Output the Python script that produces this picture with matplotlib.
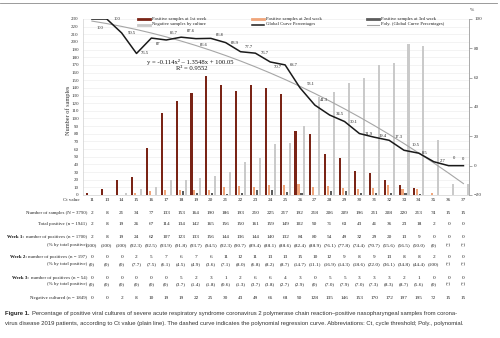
import matplotlib
matplotlib.use("Agg")
import numpy as np
import matplotlib.pyplot as plt
import matplotlib.transforms as mtransforms
from matplotlib.lines import Line2D

# Ct values (12 is absent from the series)
ct_values = [11, 13, 14, 15, 16, 17, 18, 19, 20, 21, 22, 23, 24,
             25, 26, 27, 28, 29, 30, 31, 32, 33, 34, 35, 36, 37]

n_samples = [2, 8, 21, 34, 77, 133, 153, 164, 190, 186, 193, 210, 225,
             217, 192, 218, 206, 209, 196, 211, 208, 220, 213, 74, 15, 15]
total_pos = [2, 8, 19, 26, 67, 114, 134, 142, 165, 156, 150, 161, 159,
             149, 102, 90, 71, 63, 43, 41, 36, 23, 18, 2, 0, 0]
week1 = [2, 8, 19, 24, 62, 107, 123, 133, 156, 144, 136, 144, 140,
         132, 84, 80, 54, 49, 32, 29, 20, 13, 9, 0, 0, 0]
week2 = [0, 0, 0, 2, 5, 7, 6, 7, 6, 11, 12, 11, 13,
         13, 15, 10, 12, 9, 8, 9, 13, 8, 8, 2, 0, 0]
week3 = [0, 0, 0, 0, 0, 0, 5, 2, 3, 1, 2, 6, 6,
         4, 3, 0, 5, 5, 3, 3, 3, 2, 1, 0, 0, 0]
negative = [0, 0, 2, 8, 10, 19, 19, 22, 25, 30, 43, 49, 66,
            68, 90, 128, 135, 146, 153, 170, 172, 197, 195, 72, 15, 15]

week1_pct = ["100", "100", "100", "92.3", "92.5", "93.9", "91.8", "93.7", "94.5",
             "92.3", "90.7", "89.4", "88.1", "88.6", "82.4", "88.9", "76.1", "77.8",
             "74.4", "70.7", "55.6", "56.5", "50.0", "0", "-", "-"]
week2_pct = ["0", "0", "0", "7.7", "7.5", "6.1", "4.5", "4.9", "3.6", "7.1", "8.0",
             "6.8", "8.2", "8.7", "14.7", "11.1", "16.9", "14.3", "18.6", "22.0",
             "36.1", "34.8", "44.4", "100", "-", "-"]
week3_pct = ["0", "0", "0", "0", "0", "0", "3.7", "1.4", "1.8", "0.6", "1.3", "3.7",
             "3.8", "2.7", "2.9", "0", "7.0", "7.9", "7.0", "7.3", "8.3", "8.7", "5.6",
             "0", "-", "-"]

# percentage of positive cultures per Ct (black curve)
global_pct = [100, 100, 90.5, 76.5, 87, 85.7, 87.6, 86.6, 86.8, 83.9, 77.7, 76.7, 70.7,
              68.7, 53.1, 41.3, 34.5, 30.1, 21.9, 19.4, 17.3, 10.5, 8.5, 2.7, 0, 0]

# polynomial trendline y = a*x^2 + b*x + c (x = 1..26)
poly_coef = [-0.114, -1.3548, 100.05]
r_squared = 0.9552

# label offsets in pixels (dx, dy up)
label_off = [(8, -9), (10, 0), (10, 0), (8, 0), (7, -6), (8, 7), (10, 6), (8, -6),
             (9, 3), (9, 0), (8, 5), (9, 0), (8, -5), (9, 0), (11, 4), (9, 5),
             (10, 1), (9, 0), (9, 0), (8, 1), (9, 3), (12, 5), (6, 0), (9, 1),
             (5, 8), (0, 7)]

W, H = 500, 338
SERIF = "Liberation Serif"
SANS = "Liberation Sans"


def fx(px):
    return px / W


def fy(py):
    return 1 - py / H


fig = plt.figure(figsize=(W / 100, H / 100), dpi=100)
fig.patch.set_facecolor("white")

ax = fig.add_axes([fx(83), fy(195), fx(468.5) - fx(83), fy(19) - fy(195)])
ax2 = ax.twinx()

x = np.arange(len(ct_values))
bw = 0.14
ax.bar(x - 0.3, week1, bw, color="#7a2416", zorder=3)
ax.bar(x - 0.1, week2, bw, color="#f0a57a", zorder=3)
ax.bar(x + 0.1, week3, bw, color="#5c5c5c", zorder=3)
ax.bar(x + 0.3, negative, bw, color="#cacaca", zorder=3)

ax.set_xlim(-0.6, 25.34)
ax.set_ylim(0, 230)
ax.set_yticks(np.arange(0, 231, 10))
ax.yaxis.grid(True, color="#ebebeb", lw=0.4)
ax.set_axisbelow(True)
ax.set_xticks([])
ax.tick_params(axis="y", length=0, pad=3, labelsize=3.6, labelcolor="#333")
for lab in ax.get_yticklabels():
    lab.set_family(SERIF)
for s in ["top", "right"]:
    ax.spines[s].set_visible(False)
ax.spines["left"].set_color("#d0d0d0")
ax.spines["left"].set_linewidth(0.5)
ax.spines["bottom"].set_color("#d0d0d0")
ax.spines["bottom"].set_linewidth(0.5)

# percentage curve and its trendline on the right axis
idx = x + 1
poly_y = np.polyval(poly_coef, idx)
ax2.plot(x, poly_y, color="#a6a6a6", lw=0.8, zorder=4)
ax2.plot(x, global_pct, color="#1a1a1a", lw=1.1, zorder=5)
ax2.set_ylim(-20, 100)
ax2.set_yticks(np.arange(-20, 101, 20))
ax2.tick_params(axis="y", length=2, width=0.5, color="#888", pad=2,
                labelsize=3.6, labelcolor="#333")
for lab in ax2.get_yticklabels():
    lab.set_family(SERIF)
for s in ["top", "left", "bottom"]:
    ax2.spines[s].set_visible(False)
ax2.spines["right"].set_color("#888")
ax2.spines["right"].set_linewidth(0.5)

for xi, v, (dx, dy) in zip(x, global_pct, label_off):
    ax2.annotate(f"{v:g}", (xi, v), xytext=(dx, dy), textcoords="offset pixels",
                 ha="center", va="center", fontsize=3.3, family=SERIF,
                 color="#222", zorder=6)

fig.text(fx(190), fy(62), f"y = {poly_coef[0]}x\u00b2 \u2013 {abs(poly_coef[1])}x + {poly_coef[2]}",
         ha="center", va="center", fontsize=4.8, family=SERIF, color="#111")
fig.text(fx(192), fy(69), f"R\u00b2 = {r_squared}", ha="center", va="center",
         fontsize=4.8, family=SERIF, color="#111")

fig.text(fx(68), fy(110), "Number of samples", rotation=90, ha="center", va="center",
         fontsize=4.5, family=SERIF, color="#333")
fig.text(fx(472), fy(10), "%", ha="center", va="center", fontsize=3.8,
         family=SERIF, color="#333")

# legend drawn by hand in two rows of three
legend_items = [
    (138, 19, dict(color="#7a2416", lw=2.0), "Positive samples at 1st week"),
    (138, 24.5, dict(color="#cacaca", lw=2.0), "Negative samples by culture"),
    (252, 19, dict(color="#f0a57a", lw=2.0), "Positive samples at 2nd week"),
    (252, 24.5, dict(color="#1a1a1a", lw=1.1), "Global Curve Percentages"),
    (367, 19, dict(color="#5c5c5c", lw=2.0), "Positive samples at 3rd week"),
    (367, 24.5, dict(color="#a6a6a6", lw=0.8), "Poly. (Global Curve Percentages)"),
]
for px, py, style, name in legend_items:
    fig.add_artist(Line2D([fx(px), fx(px + 12)], [fy(py), fy(py)], **style))
    fig.text(fx(px + 14), fy(py), name, ha="left", va="center", fontsize=3.4,
             family=SERIF, color="#222")

# top rule
fig.add_artist(Line2D([0, fx(497)], [fy(3), fy(3)], color="#8a8a8a", lw=0.6))

# table under the chart, columns aligned with the Ct categories
trans = mtransforms.blended_transform_factory(ax.transData, fig.transFigure)
renderer = fig.canvas.get_renderer()
fs = 3.8
label_fs = 3.5


def row(py, label, values, bold=None, label_x=87):
    t = fig.text(fx(label_x), fy(py), label, ha="right", va="center",
                 fontsize=label_fs, family=SERIF, color="#222")
    if bold:
        bb = t.get_window_extent(renderer)
        fig.text(bb.x0 / W - fx(1.5), fy(py), bold, ha="right", va="center",
                 fontsize=label_fs, family=SERIF, weight="bold", color="#111")
    for xi, v in zip(x, values):
        fig.text(xi, fy(py), str(v), transform=trans, ha="center", va="center",
                 fontsize=fs, family=SERIF, color="#222")


row(200, "Ct value", ct_values, label_x=80)
row(213, "Number of samples (N = 3790)", n_samples)
row(224, "Total positive (n = 1941)", total_pos)
row(237, "number of positives (n = 1700)", week1, bold="Week 1:")
row(245, "(% by total positive)", [f"({p})" for p in week1_pct])
row(257, "number of positives (n = 197)", week2, bold="Week 2:")
row(264, "(% by total positive)", [f"({p})" for p in week2_pct])
row(278, "number of positives (n = 54)", week3, bold="Week 3:")
row(284, "(% by total positive)", [f"({p})" for p in week3_pct])
row(298, "Negative cultured (n = 1849)", negative)

# caption
cap_fs = 4.25
fig.text(fx(5), fy(313), "Figure 1.", ha="left", va="center", fontsize=cap_fs,
         family=SANS, weight="bold", color="#222")
fig.text(fx(32), fy(313),
         "Percentage of positive viral cultures of severe acute respiratory syndrome "
         "coronavirus 2 polymerase chain reaction\u2013positive nasopharyngeal samples from corona-",
         ha="left", va="center", fontsize=cap_fs, family=SANS, color="#333")
fig.text(fx(5), fy(323),
         "virus disease 2019 patients, according to Ct value (plain line). The dashed curve "
         "indicates the polynomial regression curve. Abbreviations: Ct, cycle threshold; Poly., polynomial.",
         ha="left", va="center", fontsize=cap_fs, family=SANS, color="#333")

fig.savefig("out.png", dpi=100)
